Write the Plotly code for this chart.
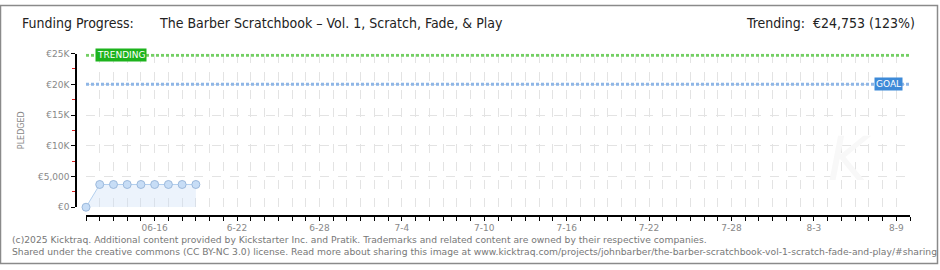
import plotly.graph_objects as go

# ---- data ----
dates = ["2025-06-11", "2025-06-12", "2025-06-13", "2025-06-14", "2025-06-15",
         "2025-06-16", "2025-06-17", "2025-06-18", "2025-06-19"]
pledged = [0, 3700, 3700, 3700, 3700, 3700, 3700, 3700, 3700]
goal_value = 20000
trending_value = 24753
trending_pct = 123
x_range = ["2025-06-11", "2025-08-10"]
x_tick_vals = ["2025-06-16", "2025-06-22", "2025-06-28", "2025-07-04", "2025-07-10",
               "2025-07-16", "2025-07-22", "2025-07-28", "2025-08-03", "2025-08-09"]
x_tick_text = ["06-16", "6-22", "6-28", "7-4", "7-10", "7-16", "7-22", "7-28", "8-3", "8-9"]
y_tick_vals = [0, 5000, 10000, 15000, 20000, 25000]
y_tick_text = ["€0", "€5,000", "€10K", "€15K", "€20K", "€25K"]

W, H = 940, 270
def px(x):
    return x / W
def py(y):
    return (H - y) / H

fig = go.Figure()
fig.add_trace(go.Scatter(
    x=dates, y=pledged, mode="lines+markers",
    line=dict(color="#b3cfee", width=1),
    fill="tozeroy", fillcolor="rgba(200,222,245,0.35)",
    marker=dict(size=8, color="#c7ddf6", line=dict(color="#9cb9dc", width=1)),
    cliponaxis=False, showlegend=False, hoverinfo="skip",
))

grid = "#e3e3e3"
fig.update_layout(
    width=W, height=H, margin=dict(l=0, r=0, t=0, b=0),
    paper_bgcolor="white", plot_bgcolor="white",
    xaxis=dict(
        type="date", range=x_range, domain=[px(86), px(910)],
        anchor="free", position=py(219),
        showline=True, linecolor="black", linewidth=1.5,
        tickvals=x_tick_vals, ticktext=x_tick_text,
        ticks="outside", ticklen=4, tickcolor="black", tickwidth=1,
        tickfont=dict(family="DejaVu Sans", size=9, color="#888888"),
        showgrid=True, gridcolor=grid, griddash="dash", gridwidth=1,
        minor=dict(dtick=86400000, tick0="2025-06-11", ticks="outside", ticklen=4,
                   tickcolor="black", showgrid=True, gridcolor=grid, griddash="dash"),
        zeroline=False, fixedrange=True,
    ),
    yaxis=dict(
        range=[0, 25000], domain=[py(210), py(50.5)],
        anchor="free", position=px(76),
        showline=True, linecolor="black", linewidth=1.5,
        tickvals=y_tick_vals, ticktext=y_tick_text,
        ticks="outside", ticklen=4, tickcolor="black",
        tickfont=dict(family="DejaVu Sans", size=9, color="#888888"),
        showgrid=True, gridcolor=grid, griddash="dash",
        minor=dict(dtick=2500, tick0=0, ticks="outside", ticklen=3,
                   tickcolor="#dd2222", showgrid=False),
        zeroline=False, fixedrange=True,
    ),
    shapes=[
        dict(type="line", xref="x domain", yref="y", x0=0, x1=1,
             y0=trending_value, y1=trending_value,
             line=dict(color="#74cf64", width=3, dash="3px,2px")),
        dict(type="line", xref="x domain", yref="y", x0=0, x1=1,
             y0=goal_value, y1=goal_value,
             line=dict(color="#8fb6e6", width=3, dash="3px,2px")),
        dict(type="rect", xref="paper", yref="paper",
             x0=px(0.5), x1=px(937.5), y0=py(268.5), y1=py(0.5),
             line=dict(color="#8a8a8a", width=1.5)),
    ],
)

title_font = dict(family="DejaVu Sans Condensed, Roboto, sans-serif", size=14, color="#222")
ann = []
ann.append(dict(text="Funding Progress:", x=px(20), y=py(19), xref="paper", yref="paper",
                xanchor="left", yanchor="middle", showarrow=False, font=title_font))
ann.append(dict(text="The Barber Scratchbook – Vol. 1, Scratch, Fade, & Play",
                x=px(157), y=py(19), xref="paper", yref="paper",
                xanchor="left", yanchor="middle", showarrow=False, font=title_font))
ann.append(dict(text=f"Trending:  €{trending_value:,} ({trending_pct}%)",
                x=px(917), y=py(19), xref="paper", yref="paper",
                xanchor="right", yanchor="middle", showarrow=False, font=title_font))
ann.append(dict(text="PLEDGED", x=px(21), y=py(130), xref="paper", yref="paper",
                xanchor="center", yanchor="middle",
                textangle=-90, showarrow=False,
                font=dict(family="DejaVu Sans", size=8, color="#888")))
ann.append(dict(text="TRENDING", x=px(120.5), y=trending_value, xref="paper", yref="y",
                xanchor="center", yanchor="middle",
                showarrow=False, bgcolor="#1db31d", borderpad=1,
                font=dict(family="DejaVu Sans", size=9, color="white")))
ann.append(dict(text="GOAL", x=px(888), y=goal_value, xref="paper", yref="y",
                xanchor="center", yanchor="middle",
                showarrow=False, bgcolor="#3d8ad8", borderpad=1,
                font=dict(family="DejaVu Sans", size=9, color="white")))
ann.append(dict(text="<i>K</i>", x=px(850), y=py(160), xref="paper", yref="paper",
                xanchor="center", yanchor="middle",
                showarrow=False, font=dict(family="DejaVu Sans", size=60, color="#f8f8f8")))
foot_font = dict(family="DejaVu Sans", size=9.2, color="#777")
ann.append(dict(text="(c)2025 Kicktraq. Additional content provided by Kickstarter Inc. and Pratik. Trademarks and related content are owned by their respective companies.",
                x=px(10), y=py(244), xref="paper", yref="paper", xanchor="left", yanchor="middle",
                showarrow=False, font=foot_font))
ann.append(dict(text="Shared under the creative commons (CC BY-NC 3.0) license. Read more about sharing this image at www.kicktraq.com/projects/johnbarber/the-barber-scratchbook-vol-1-scratch-fade-and-play/#sharing",
                x=px(10), y=py(256), xref="paper", yref="paper", xanchor="left", yanchor="middle",
                showarrow=False, font=foot_font))
fig.update_layout(annotations=ann)

fig.write_html("out.html")
